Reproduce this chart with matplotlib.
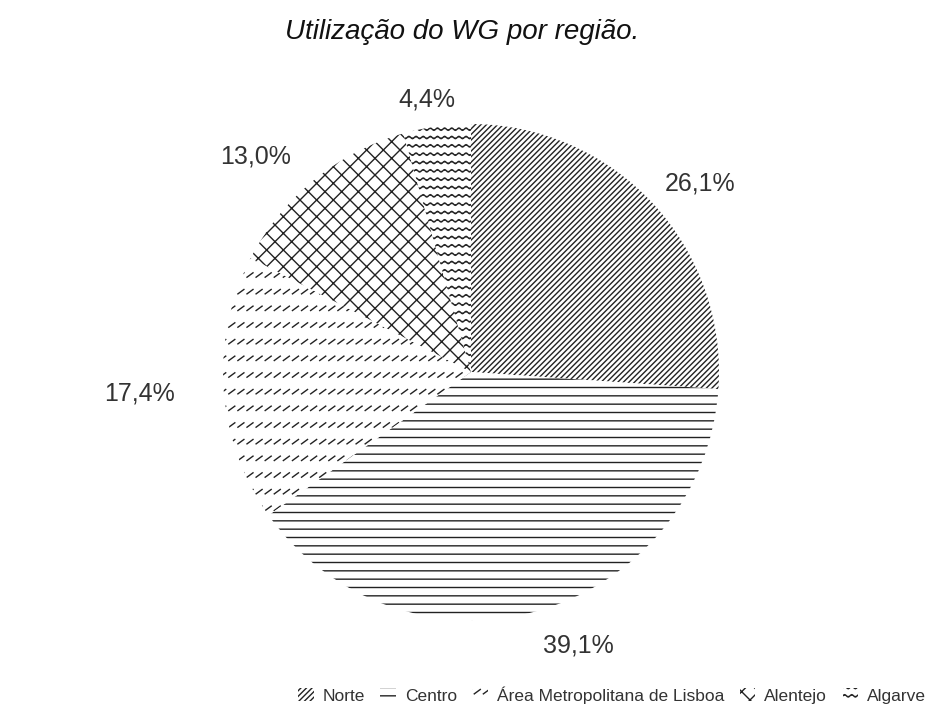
import warnings

import matplotlib
matplotlib.use("Agg")
import matplotlib.hatch as mhatch
import matplotlib.pyplot as plt
import numpy as np
from matplotlib.path import Path

warnings.filterwarnings("ignore")

plt.rcParams["font.family"] = ["Liberation Sans", "DejaVu Sans"]
plt.rcParams["hatch.linewidth"] = 1.0

regioes = ["Norte", "Centro", "Área Metropolitana de Lisboa", "Alentejo", "Algarve"]
percentagens = [26.1, 39.1, 17.4, 13.0, 4.4]
padroes = ["//////", "--", ":", "xx", "~"]
# posição dos rótulos (unidades do raio)
rotulos_xy = [(0.923, 0.762), (0.431, -1.101), (-1.335, -0.085),
              (-0.867, 0.867), (-0.177, 1.097)]


class TracosHatch(mhatch.HatchPatternBase):
    """Pequenos traços oblíquos dispostos em filas (':')."""
    linhas, por_linha = 6, 11

    def __init__(self, hatch, density):
        self.n = self.linhas * self.por_linha if ":" in hatch else 0
        self.num_vertices = self.n * 2

    def set_vertices_and_codes(self, vertices, codes):
        ys = (np.arange(self.linhas) + 0.5) / self.linhas
        xs = (np.arange(self.por_linha) + 0.5) / self.por_linha
        gx, gy = np.meshgrid(xs, ys)
        gx, gy = gx.ravel(), gy.ravel()
        vertices[0::2, 0] = gx - 0.03
        vertices[0::2, 1] = gy - 0.022
        vertices[1::2, 0] = gx + 0.03
        vertices[1::2, 1] = gy + 0.022
        codes[0::2] = Path.MOVETO
        codes[1::2] = Path.LINETO


class OndasHatch(mhatch.HatchPatternBase):
    """Linhas onduladas horizontais ('~')."""
    linhas, periodos, passos = 12, 14, 8

    def __init__(self, hatch, density):
        self.pts = self.periodos * self.passos + 1
        self.num_vertices = self.linhas * self.pts if "~" in hatch else 0

    def set_vertices_and_codes(self, vertices, codes):
        xs = np.linspace(0, 1, self.pts)
        for i in range(self.linhas):
            y = (i + 0.5) / self.linhas + 0.012 * np.sin(2 * np.pi * self.periodos * xs)
            seg = slice(i * self.pts, (i + 1) * self.pts)
            vertices[seg, 0] = xs
            vertices[seg, 1] = y
            codes[seg] = Path.LINETO
            codes[i * self.pts] = Path.MOVETO


mhatch._hatch_types.extend([TracosHatch, OndasHatch])

fig = plt.figure(figsize=(9.3, 7.26), dpi=100)
ax = fig.add_axes([0.2398, 0.146, 0.5333, 0.6832])

fatias, _ = ax.pie(percentagens, startangle=90, counterclock=False,
                   wedgeprops=dict(facecolor="white", edgecolor="#222222", linewidth=0))
for fatia, padrao in zip(fatias, padroes):
    fatia.set_hatch(padrao)
ax.set_xlim(-1, 1)
ax.set_ylim(-1, 1)

for valor, (x, y) in zip(percentagens, rotulos_xy):
    ax.text(x, y, f"{valor:.1f}%".replace(".", ","), ha="center", va="center",
            fontsize=18, color="#333333")

fig.text(0.497, 1 - 32 / 726, "Utilização do WG por região.", ha="center", va="center",
         fontsize=20, style="italic", color="#111111")

fig.legend(fatias, regioes, loc="center", bbox_to_anchor=(0.658, 0.0427), ncol=5,
           frameon=False, fontsize=12.5, handlelength=0.9, handleheight=0.8,
           handletextpad=0.5, columnspacing=0.9, labelcolor="#333333")

fig.savefig("out.png", dpi=100)
